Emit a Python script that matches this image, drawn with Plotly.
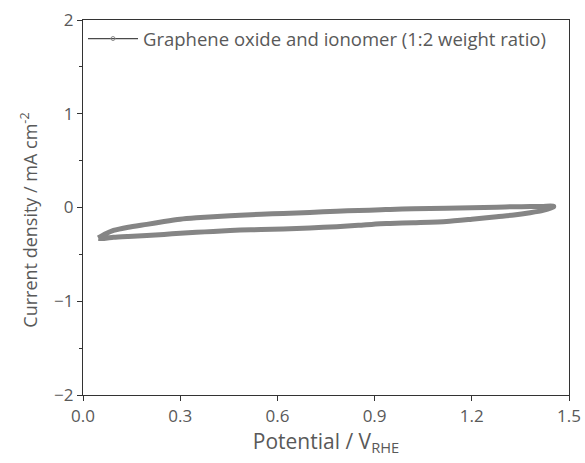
import plotly.graph_objects as go

# Anodic (upper) branch: potential (V vs RHE) and current density (mA cm^-2)
fwd_potential = [0.047, 0.07, 0.094, 0.14, 0.197, 0.25, 0.30, 0.35, 0.402, 0.454, 0.485,
                 0.55, 0.618, 0.70, 0.783, 0.85, 0.92, 0.948, 1.02, 1.122, 1.20, 1.277,
                 1.328, 1.38, 1.42, 1.452]
fwd_current = [-0.325, -0.28, -0.245, -0.21, -0.18, -0.15, -0.125, -0.11, -0.098, -0.088, -0.082,
               -0.072, -0.064, -0.052, -0.040, -0.032, -0.024, -0.020, -0.014, -0.008, -0.002, 0.004,
               0.008, 0.010, 0.012, 0.015]
# Cathodic (lower) branch
rev_potential = [1.452, 1.42, 1.38, 1.33, 1.277, 1.20, 1.122, 1.02, 0.948, 0.917, 0.85,
                 0.783, 0.70, 0.618, 0.55, 0.485, 0.454, 0.402, 0.35, 0.30, 0.25, 0.197,
                 0.14, 0.094, 0.065, 0.047]
rev_current = [0.005, -0.03, -0.055, -0.08, -0.098, -0.125, -0.15, -0.162, -0.17, -0.172, -0.19,
               -0.205, -0.218, -0.228, -0.235, -0.24, -0.245, -0.255, -0.265, -0.275, -0.287, -0.298,
               -0.308, -0.318, -0.33, -0.33]

x_ticks = [0.0, 0.3, 0.6, 0.9, 1.2, 1.5]
x_ticktext = ["0.0", "0.3", "0.6", "0.9", "1.2", "1.5"]
y_ticks = [-2, -1, 0, 1, 2]
y_ticktext = ["\u22122", "\u22121", "0", "1", "2"]

series_name = "Graphene oxide and ionomer (1:2 weight ratio)"

potential = fwd_potential + rev_potential
current = fwd_current + rev_current

font_family = "'Open Sans', sans-serif"
text_color = "#595959"

fig = go.Figure()
fig.add_trace(go.Scatter(
    x=potential, y=current, mode="lines",
    line=dict(color="#858585", width=5, shape="spline", smoothing=0.6),
    showlegend=False, hoverinfo="x+y",
))
fig.add_trace(go.Scatter(
    x=[None], y=[None], mode="lines+markers", name=series_name,
    line=dict(color="#4a4a4a", width=1.3),
    marker=dict(symbol="circle-open", size=4, color="#8a8a8a"),
))

axis_common = dict(
    showgrid=False, zeroline=False, showline=True, linecolor="#333333", linewidth=1.3,
    mirror=True, ticks="outside", ticklen=5, tickwidth=1.2, tickcolor="#333333",
    tickfont=dict(family=font_family, size=17, color=text_color),
    automargin=False,
)

fig.update_xaxes(
    range=[0, 1.5], tickmode="array", tickvals=x_ticks, ticktext=x_ticktext,
    title=dict(text="Potential / V<sub>RHE</sub>", font=dict(family=font_family, size=21, color=text_color), standoff=4),
    **axis_common,
)
fig.update_yaxes(
    range=[-2, 2], tickmode="array", tickvals=y_ticks, ticktext=y_ticktext,
    minor=dict(tickvals=[-1.5, -0.5, 0.5, 1.5], ticks="outside", ticklen=3, tickcolor="#333333"),
    **axis_common,
)

fig.add_annotation(
    text="Current density / mA cm<sup>-2</sup>", textangle=-90,
    xref="paper", yref="y", x=-0.111, y=-0.14, xanchor="center", yanchor="middle",
    showarrow=False, font=dict(family=font_family, size=18, color=text_color),
)

fig.update_layout(
    width=585, height=463,
    margin=dict(l=83, r=16, t=20, b=68),
    plot_bgcolor="white", paper_bgcolor="white",
    font=dict(family=font_family, color=text_color),
    legend=dict(x=0.0, y=1.0, xanchor="left", yanchor="top", bgcolor="rgba(0,0,0,0)",
                font=dict(family=font_family, size=18.5, color=text_color),
                itemwidth=50, tracegroupgap=0),
)

fig.write_html("out.html", config={"displayModeBar": False},
               post_script="document.body.style.margin='0px';")
